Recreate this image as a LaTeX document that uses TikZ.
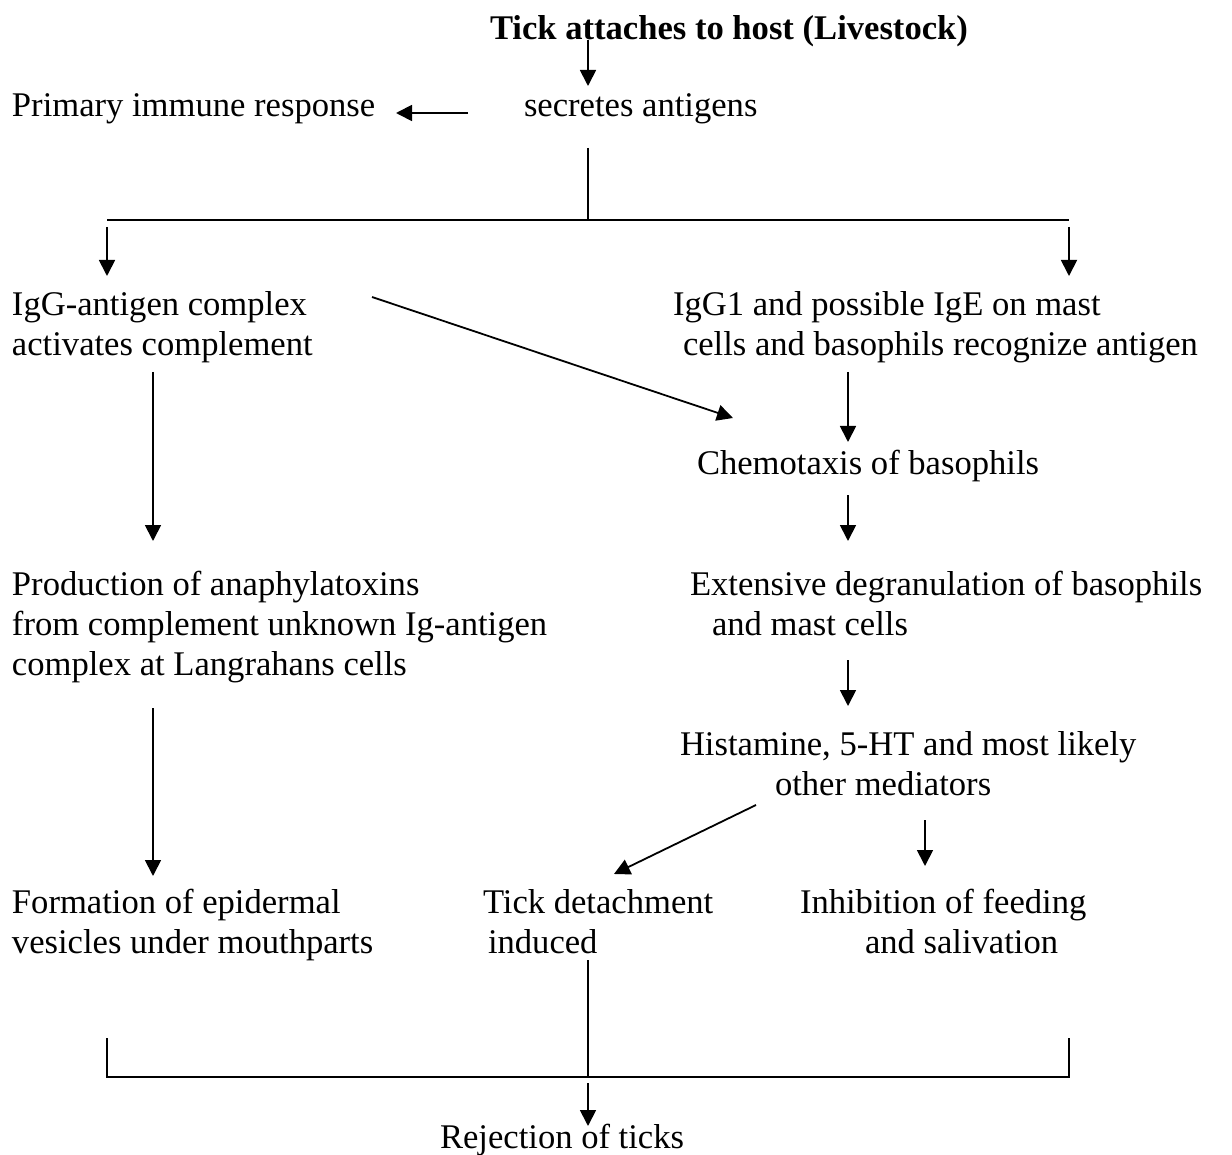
\documentclass[tikz,border=0pt]{standalone}
\usepackage{fontspec}
\setmainfont{Liberation Serif}
\usetikzlibrary{arrows.meta}
\begin{document}
\begin{tikzpicture}[x=1pt,y=-1pt,
  txt/.style={font=\fontsize{34.6}{40}\selectfont, inner sep=0pt, outer sep=0pt, anchor=base west, align=left},
  arr/.style={line width=1.8pt, -{Triangle[length=16pt,width=16pt]}},
  ln/.style={line width=1.8pt}]
\useasboundingbox[fill=white] (0,0) rectangle (1232,1155);
% text nodes (anchor = baseline of the last line)
\node[txt, font=\fontsize{34.6}{40}\selectfont\bfseries] (title) at (490,40) {Tick attaches to host (Livestock)};
\node[txt] (sec) at (524,117) {secretes antigens};
\node[txt] (prim) at (12,117) {Primary immune response};
\node[txt] (igg) at (12,356) {IgG-antigen complex\\activates complement};
\node[txt] (igg1) at (673,356) {IgG1 and possible IgE on mast\\\hspace*{10pt}cells and basophils recognize antigen};
\node[txt] (chemo) at (697,475) {Chemotaxis of basophils};
\node[txt] (prod) at (12,675) {Production of anaphylatoxins\\from complement unknown Ig-antigen\\complex at Langrahans cells};
\node[txt] (ext) at (690,635) {Extensive degranulation of basophils\\\hspace*{22pt}and mast cells};
\node[txt] (hist) at (680,795) {Histamine, 5-HT and most likely\\\hspace*{95pt}other mediators};
\node[txt] (form) at (12,953) {Formation of epidermal\\vesicles under mouthparts};
\node[txt] (det) at (483,953) {Tick detachment\\\hspace*{5pt}induced};
\node[txt] (inh) at (800,953) {Inhibition of feeding\\\hspace*{65pt}and salivation};
\node[txt] (rej) at (440,1148) {Rejection of ticks};
% connector coordinates
\coordinate (t1) at (588,40);   \coordinate (t2) at (588,86);
\coordinate (p1) at (468,113);  \coordinate (p2) at (396,113);
\coordinate (s1) at (588,148);  \coordinate (s2) at (588,220);
\coordinate (hl) at (107,220);  \coordinate (hr) at (1069,220);
\coordinate (al1) at (107,227); \coordinate (al2) at (107,276);
\coordinate (ar1) at (1069,227);\coordinate (ar2) at (1069,276);
\coordinate (d1) at (372,297);  \coordinate (d2) at (733,418);
\coordinate (c1) at (848,372);  \coordinate (c2) at (848,442);
\coordinate (l1) at (153,372);  \coordinate (l2) at (153,541);
\coordinate (e1) at (848,495);  \coordinate (e2) at (848,541);
\coordinate (h1) at (848,660);  \coordinate (h2) at (848,706);
\coordinate (f1) at (153,708);  \coordinate (f2) at (153,876);
\coordinate (m1) at (756,805);  \coordinate (m2) at (614,874);
\coordinate (n1) at (925,820);  \coordinate (n2) at (925,866);
\coordinate (v1) at (588,960);  \coordinate (v2) at (588,1077);
\coordinate (bl1) at (107,1038);\coordinate (bl2) at (107,1077);
\coordinate (br1) at (1069,1038);\coordinate (br2) at (1069,1077);
\coordinate (r1) at (588,1083); \coordinate (r2) at (588,1126);
% connectors
\draw[arr] (t1) -- (t2);
\draw[arr] (p1) -- (p2);
\draw[ln] (s1) -- (s2);
\draw[ln] (hl) -- (hr);
\draw[arr] (al1) -- (al2);
\draw[arr] (ar1) -- (ar2);
\draw[arr] (d1) -- (d2);
\draw[arr] (c1) -- (c2);
\draw[arr] (l1) -- (l2);
\draw[arr] (e1) -- (e2);
\draw[arr] (h1) -- (h2);
\draw[arr] (f1) -- (f2);
\draw[arr] (m1) -- (m2);
\draw[arr] (n1) -- (n2);
\draw[ln] (v1) -- (v2);
\draw[ln] (bl1) -- (bl2) -- (br2) -- (br1);
\draw[arr] (r1) -- (r2);
\end{tikzpicture}
\end{document}
